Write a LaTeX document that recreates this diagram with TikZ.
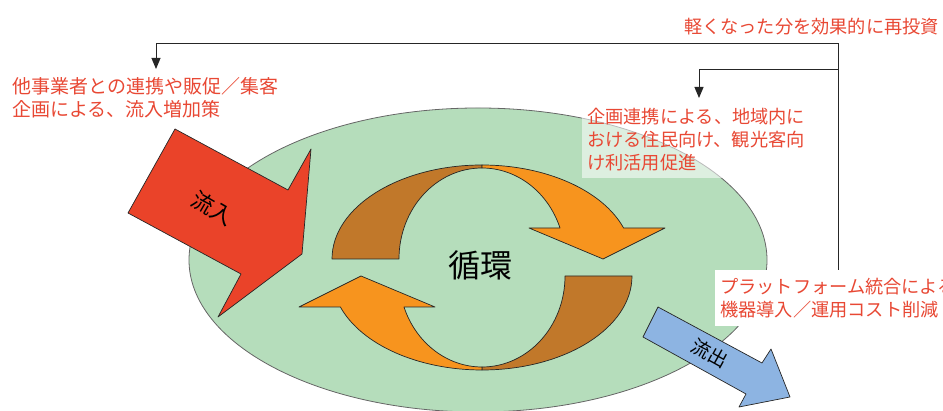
\documentclass[tikz,border=0pt]{standalone}
\usepackage{fontspec}
\newfontfamily\jp{Noto Sans CJK JP}
\usetikzlibrary{arrows.meta,shapes.geometric}
\definecolor{txtred}{RGB}{232,72,52}
\definecolor{ellgreen}{RGB}{181,221,187}
\definecolor{inred}{RGB}{234,67,41}
\definecolor{outblue}{RGB}{141,180,226}
\definecolor{arrorange}{RGB}{247,148,30}
\definecolor{arrbrown}{RGB}{193,120,42}
\begin{document}
\begin{tikzpicture}[x=1pt,y=1pt,
  note/.style={font=\jp\fontsize{18.2}{23}\selectfont, text=txtred, align=left, inner sep=0pt},
  conn/.style={draw=black!85, line width=1pt},
  tip/.style={-{Triangle[length=11pt,width=9pt]}},
  shapeedge/.style={draw=black!85, line width=0.7pt, line join=round},
  halfcycle/.pic={
    \path[shapeedge, fill=arrbrown] (-150,8.5) arc[start angle=180,end angle=90,x radius=150pt,y radius=94pt]
      -- (0,99.5) arc[start angle=90,end angle=180,x radius=83pt,y radius=91pt] -- cycle;
    \path[shapeedge, fill=arrorange] (0,102.5) arc[start angle=90,end angle=19.26,x radius=150pt,y radius=94pt]
      -- (183,39.5) -- (121,8.5) -- (47,39.5) -- (78.0,39.5)
      arc[start angle=19.92,end angle=90,x radius=83pt,y radius=91pt] -- cycle;
  },
]
\useasboundingbox (0,0) rectangle (943,411);

% pool
\node[ellipse, draw=black!60, line width=0.8pt, fill=ellgreen, inner sep=0pt,
      minimum width=578pt, minimum height=304pt] (pool) at (478,151) {};

% circulation arrows
\pic (upper) at (482,143.5) {halfcycle};
\pic[rotate=180] (lower) at (482,143.5) {halfcycle};
\node[font=\jp\fontsize{32}{36}\selectfont] (cycle) at (480,146) {循環};

% inflow arrow
\draw[shapeedge, fill=inred] (175,282) -- (288,221) -- (311,262) -- (302,157)
  -- (218,94) -- (241,137) -- (128,198) -- cycle;
\node[font=\jp\fontsize{22}{24}\selectfont, rotate=-30] (inlab) at (213,203) {流入};

% outflow arrow
\draw[shapeedge, fill=outblue] (658,104) -- (762,48) -- (771,62) -- (790,14)
  -- (739,4) -- (746,17) -- (643,74) -- cycle;
\node[font=\jp\fontsize{19}{21}\selectfont, rotate=-29] (outlab) at (710,58) {流出};

% labels
\node[note, anchor=north east] (topnote) at (939,393) {軽くなった分を効果的に再投資};
\node[note, font=\jp\fontsize{19}{23}\selectfont, anchor=north west] (llabel) at (12,334)
      {他事業者との連携や販促／集客\\企画による、流入増加策};
\node[note, anchor=north west, fill=white, fill opacity=0.55, text opacity=1,
      inner xsep=5pt, inner ysep=7pt] (mlabel) at (582,310)
      {企画連携による、地域内に\\おける住民向け、観光客向\\け利活用促進};
\node[note, anchor=north west, fill=white, inner xsep=5pt, inner ysep=8pt] (rlabel) at (715,141)
      {プラットフォーム統合による\\機器導入／運用コスト削減};

% connectors
\coordinate (tr) at (838,367);
\coordinate (tl) at (156,367);
\coordinate (br) at (838,341);
\coordinate (bl) at (699,341);
\draw[conn, tip] (rlabel.north -| tr) -- (tr) -- (tl) -- ([yshift=8pt]llabel.north -| tl);
\draw[conn, tip] (br) -- (bl) -- ([yshift=3pt]mlabel.north -| bl);
\end{tikzpicture}
\end{document}
